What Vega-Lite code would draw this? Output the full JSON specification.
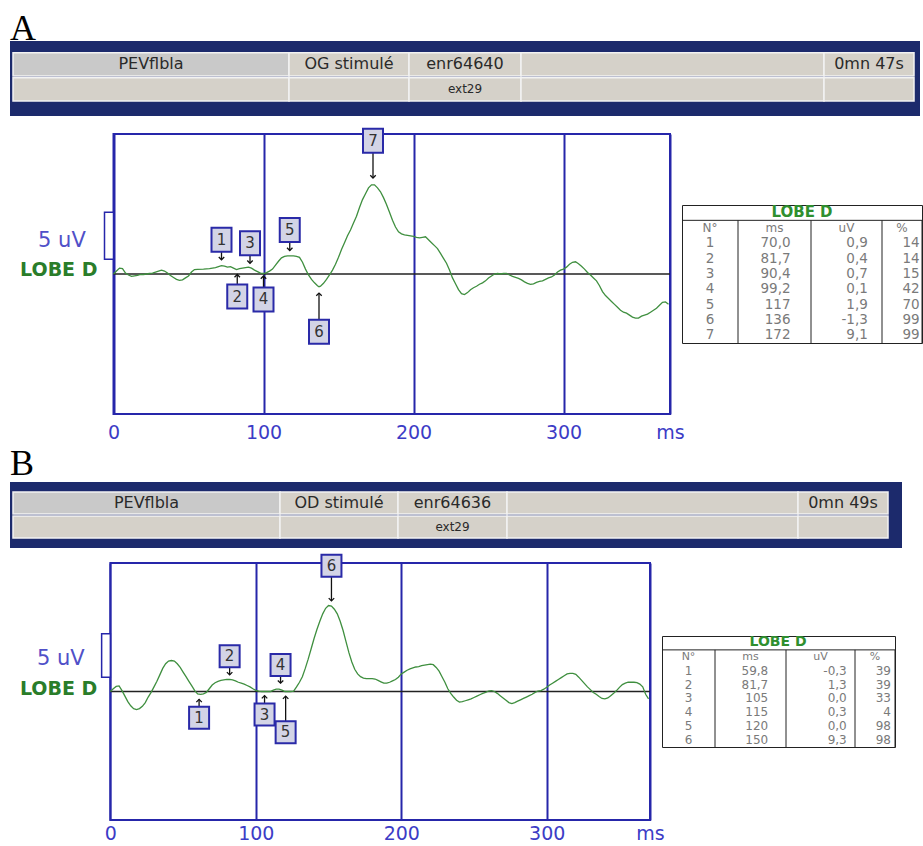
{
"$schema": "https://vega.github.io/schema/vega-lite/v6.json",
"padding": {"left": 10, "top": 11, "right": 0, "bottom": 0},
"background": "white",
"config": {"view": {"stroke": null}, "font": "DejaVu Sans"},
"datasets": {
"hdrColsA": [{"idx":1,"w":276},{"idx":2,"w":120},{"idx":3,"w":112},{"idx":4,"w":303},{"idx":5,"w":90}],
"hdrColsB": [{"idx":1,"w":267},{"idx":2,"w":118},{"idx":3,"w":109},{"idx":4,"w":291},{"idx":5,"w":90}],
"hdrA": [{"row":"1","idx":1,"label":"PEVflbla"},{"row":"1","idx":2,"label":"OG stimulé"},{"row":"1","idx":3,"label":"enr64640"},{"row":"1","idx":4,"label":""},{"row":"1","idx":5,"label":"0mn 47s"},{"row":"2","idx":1,"label":""},{"row":"2","idx":2,"label":""},{"row":"2","idx":3,"label":"ext29"},{"row":"2","idx":4,"label":""},{"row":"2","idx":5,"label":""}],
"hdrB": [{"row":"1","idx":1,"label":"PEVflbla"},{"row":"1","idx":2,"label":"OD stimulé"},{"row":"1","idx":3,"label":"enr64636"},{"row":"1","idx":4,"label":""},{"row":"1","idx":5,"label":"0mn 49s"},{"row":"2","idx":1,"label":""},{"row":"2","idx":2,"label":""},{"row":"2","idx":3,"label":"ext29"},{"row":"2","idx":4,"label":""},{"row":"2","idx":5,"label":""}],
"colsA": [{"key":"N","idx":1,"w":56,"head":"N°"},{"key":"ms","idx":2,"w":73,"head":"ms"},{"key":"uV","idx":3,"w":71,"head":"uV"},{"key":"pct","idx":4,"w":40,"head":"%"}],
"colsB": [{"key":"N","idx":1,"w":53,"head":"N°"},{"key":"ms","idx":2,"w":71,"head":"ms"},{"key":"uV","idx":3,"w":69,"head":"uV"},{"key":"pct","idx":4,"w":40,"head":"%"}],
"tabA": [{"N":1,"ms":"70,0","uV":"0,9","pct":"14"},{"N":2,"ms":"81,7","uV":"0,4","pct":"14"},{"N":3,"ms":"90,4","uV":"0,7","pct":"15"},{"N":4,"ms":"99,2","uV":"0,1","pct":"42"},{"N":5,"ms":"117","uV":"1,9","pct":"70"},{"N":6,"ms":"136","uV":"-1,3","pct":"99"},{"N":7,"ms":"172","uV":"9,1","pct":"99"}],
"tabB": [{"N":1,"ms":"59,8","uV":"-0,3","pct":"39"},{"N":2,"ms":"81,7","uV":"1,3","pct":"39"},{"N":3,"ms":"105","uV":"0,0","pct":"33"},{"N":4,"ms":"115","uV":"0,3","pct":"4"},{"N":5,"ms":"120","uV":"0,0","pct":"98"},{"N":6,"ms":"150","uV":"9,3","pct":"98"}],
"markA": [{"n":"1","t":72,"bv":3.5,"a0":2.27,"a1":1.45,"dir":"down"},{"n":"3","t":91,"bv":3.15,"a0":1.92,"a1":1.1,"dir":"down"},{"n":"5","t":117.5,"bv":4.5,"a0":3.27,"a1":2.4,"dir":"down"},{"n":"7","t":173,"bv":13.6,"a0":12.37,"a1":9.8,"dir":"down"},{"n":"2","t":82.5,"bv":-2.3,"a0":-1.07,"a1":-0.05,"dir":"up"},{"n":"4","t":100,"bv":-2.6,"a0":-1.37,"a1":-0.2,"dir":"up"},{"n":"6","t":137,"bv":-5.9,"a0":-4.67,"a1":-1.95,"dir":"up"}],
"markB": [{"n":"1","t":61,"bv":-2.85,"a0":-1.66,"a1":-0.85,"dir":"up"},{"n":"2","t":82,"bv":3.8,"a0":2.61,"a1":1.8,"dir":"down"},{"n":"3","t":106,"bv":-2.5,"a0":-1.31,"a1":-0.45,"dir":"up"},{"n":"4","t":117,"bv":2.87,"a0":1.68,"a1":0.9,"dir":"down"},{"n":"5","t":120.5,"bv":-4.4,"a0":-3.21,"a1":-0.5,"dir":"up"},{"n":"6","t":152,"bv":13.6,"a0":12.41,"a1":9.8,"dir":"down"}],
"traceA": [{"t":0,"v":0},{"t":2,"v":0.3},{"t":4,"v":0.6},{"t":6,"v":0.55},{"t":8,"v":0.1},{"t":10,"v":-0.1},{"t":12,"v":-0.25},{"t":14,"v":-0.2},{"t":16,"v":-0.15},{"t":18,"v":-0.05},{"t":20,"v":-0.05},{"t":22,"v":0},{"t":24,"v":0.05},{"t":26,"v":0.1},{"t":28,"v":0.2},{"t":30,"v":0.3},{"t":32,"v":0.4},{"t":34,"v":0.3},{"t":36,"v":0.1},{"t":38,"v":-0.15},{"t":40,"v":-0.35},{"t":42,"v":-0.55},{"t":44,"v":-0.65},{"t":46,"v":-0.6},{"t":48,"v":-0.4},{"t":50,"v":-0.2},{"t":52,"v":0.2},{"t":54,"v":0.45},{"t":56,"v":0.48},{"t":60,"v":0.5},{"t":64,"v":0.55},{"t":68,"v":0.65},{"t":70,"v":0.75},{"t":72,"v":0.85},{"t":74,"v":0.8},{"t":76,"v":0.7},{"t":78,"v":0.75},{"t":80,"v":0.6},{"t":82,"v":0.45},{"t":84,"v":0.55},{"t":86,"v":0.6},{"t":88,"v":0.65},{"t":90,"v":0.7},{"t":92,"v":0.6},{"t":94,"v":0.4},{"t":96,"v":0.25},{"t":98,"v":0.1},{"t":100,"v":0.05},{"t":102,"v":0.15},{"t":104,"v":0.3},{"t":106,"v":0.5},{"t":108,"v":0.9},{"t":110,"v":1.3},{"t":112,"v":1.65},{"t":114,"v":1.8},{"t":116,"v":1.85},{"t":118,"v":1.85},{"t":120,"v":1.85},{"t":122,"v":1.8},{"t":124,"v":1.7},{"t":126,"v":1.2},{"t":128,"v":0.5},{"t":130,"v":-0.1},{"t":132,"v":-0.55},{"t":134,"v":-0.9},{"t":136,"v":-1.2},{"t":137,"v":-1.3},{"t":138,"v":-1.25},{"t":140,"v":-0.95},{"t":142,"v":-0.55},{"t":144,"v":-0.1},{"t":146,"v":0.4},{"t":148,"v":1},{"t":150,"v":1.7},{"t":152,"v":2.5},{"t":154,"v":3.2},{"t":156,"v":3.9},{"t":158,"v":4.5},{"t":160,"v":5.2},{"t":162,"v":5.9},{"t":164,"v":6.8},{"t":166,"v":7.6},{"t":168,"v":8.2},{"t":170,"v":8.8},{"t":172,"v":9.1},{"t":174,"v":9.1},{"t":176,"v":8.8},{"t":178,"v":8.4},{"t":180,"v":7.8},{"t":182,"v":7.1},{"t":184,"v":6.3},{"t":186,"v":5.5},{"t":188,"v":4.8},{"t":190,"v":4.3},{"t":192,"v":4.1},{"t":194,"v":4},{"t":196,"v":3.95},{"t":198,"v":3.9},{"t":200,"v":3.85},{"t":202,"v":3.75},{"t":204,"v":3.7},{"t":206,"v":3.75},{"t":208,"v":3.8},{"t":210,"v":3.5},{"t":212,"v":3.2},{"t":214,"v":2.9},{"t":216,"v":2.6},{"t":218,"v":2.1},{"t":220,"v":1.6},{"t":222,"v":1.1},{"t":224,"v":0.4},{"t":226,"v":-0.4},{"t":228,"v":-1},{"t":230,"v":-1.6},{"t":232,"v":-2},{"t":234,"v":-2.1},{"t":236,"v":-1.9},{"t":238,"v":-1.6},{"t":240,"v":-1.4},{"t":242,"v":-1.25},{"t":244,"v":-1.05},{"t":246,"v":-0.9},{"t":248,"v":-0.7},{"t":250,"v":-0.4},{"t":252,"v":-0.2},{"t":254,"v":0},{"t":256,"v":0.05},{"t":258,"v":0},{"t":260,"v":0.05},{"t":262,"v":0.05},{"t":264,"v":-0.1},{"t":266,"v":-0.25},{"t":268,"v":-0.35},{"t":270,"v":-0.45},{"t":272,"v":-0.6},{"t":274,"v":-0.8},{"t":276,"v":-0.95},{"t":278,"v":-1.05},{"t":280,"v":-1},{"t":282,"v":-0.85},{"t":284,"v":-0.75},{"t":286,"v":-0.7},{"t":288,"v":-0.55},{"t":290,"v":-0.4},{"t":292,"v":-0.3},{"t":294,"v":-0.1},{"t":296,"v":0.2},{"t":298,"v":0.4},{"t":300,"v":0.5},{"t":302,"v":0.7},{"t":304,"v":1},{"t":306,"v":1.2},{"t":308,"v":1.25},{"t":310,"v":1.05},{"t":312,"v":0.8},{"t":314,"v":0.5},{"t":316,"v":0.15},{"t":318,"v":-0.1},{"t":320,"v":-0.4},{"t":322,"v":-0.7},{"t":324,"v":-1.2},{"t":326,"v":-1.8},{"t":328,"v":-2.2},{"t":330,"v":-2.5},{"t":332,"v":-2.8},{"t":334,"v":-3.1},{"t":336,"v":-3.4},{"t":338,"v":-3.7},{"t":340,"v":-3.9},{"t":342,"v":-4},{"t":344,"v":-4.2},{"t":346,"v":-4.4},{"t":348,"v":-4.5},{"t":350,"v":-4.5},{"t":352,"v":-4.3},{"t":354,"v":-4.2},{"t":356,"v":-4.1},{"t":358,"v":-3.9},{"t":360,"v":-3.7},{"t":362,"v":-3.5},{"t":364,"v":-3.2},{"t":366,"v":-2.9},{"t":368,"v":-2.85},{"t":370,"v":-3.1}],
"traceB": [{"t":0,"v":0},{"t":2,"v":0.3},{"t":4,"v":0.55},{"t":6,"v":0.6},{"t":8,"v":0.1},{"t":10,"v":-0.5},{"t":12,"v":-1.1},{"t":14,"v":-1.55},{"t":16,"v":-1.85},{"t":18,"v":-1.95},{"t":20,"v":-1.85},{"t":22,"v":-1.6},{"t":24,"v":-1.2},{"t":26,"v":-0.6},{"t":28,"v":-0.1},{"t":30,"v":0.5},{"t":32,"v":1.1},{"t":34,"v":1.8},{"t":36,"v":2.5},{"t":38,"v":3},{"t":40,"v":3.3},{"t":42,"v":3.35},{"t":44,"v":3.3},{"t":46,"v":3},{"t":48,"v":2.6},{"t":50,"v":2.1},{"t":52,"v":1.6},{"t":54,"v":1.1},{"t":56,"v":0.6},{"t":58,"v":0.1},{"t":60,"v":-0.25},{"t":62,"v":-0.3},{"t":64,"v":-0.25},{"t":66,"v":-0.1},{"t":68,"v":0.3},{"t":70,"v":0.7},{"t":72,"v":0.95},{"t":74,"v":1.1},{"t":76,"v":1.2},{"t":78,"v":1.25},{"t":80,"v":1.3},{"t":82,"v":1.3},{"t":84,"v":1.25},{"t":86,"v":1.15},{"t":88,"v":1},{"t":90,"v":0.9},{"t":92,"v":0.8},{"t":94,"v":0.65},{"t":96,"v":0.5},{"t":98,"v":0.3},{"t":100,"v":0.12},{"t":102,"v":0.05},{"t":104,"v":0},{"t":106,"v":0},{"t":108,"v":0},{"t":110,"v":0},{"t":112,"v":0.15},{"t":114,"v":0.25},{"t":116,"v":0.25},{"t":118,"v":0.15},{"t":120,"v":0},{"t":122,"v":0},{"t":124,"v":0},{"t":126,"v":0.05},{"t":128,"v":0.5},{"t":130,"v":1},{"t":132,"v":1.6},{"t":134,"v":2.5},{"t":136,"v":3.5},{"t":138,"v":4.6},{"t":140,"v":5.7},{"t":142,"v":6.7},{"t":144,"v":7.6},{"t":146,"v":8.4},{"t":148,"v":9},{"t":150,"v":9.3},{"t":152,"v":9.25},{"t":154,"v":8.9},{"t":156,"v":8.4},{"t":158,"v":7.6},{"t":160,"v":6.6},{"t":162,"v":5.4},{"t":164,"v":4.2},{"t":166,"v":3.2},{"t":168,"v":2.4},{"t":170,"v":1.9},{"t":172,"v":1.6},{"t":174,"v":1.45},{"t":176,"v":1.4},{"t":178,"v":1.4},{"t":180,"v":1.4},{"t":182,"v":1.35},{"t":184,"v":1.2},{"t":186,"v":1.05},{"t":188,"v":0.9},{"t":190,"v":0.9},{"t":192,"v":1},{"t":194,"v":1.15},{"t":196,"v":1.3},{"t":198,"v":1.55},{"t":200,"v":1.9},{"t":202,"v":2.1},{"t":204,"v":2.3},{"t":206,"v":2.45},{"t":208,"v":2.55},{"t":210,"v":2.65},{"t":212,"v":2.7},{"t":214,"v":2.8},{"t":216,"v":2.85},{"t":218,"v":2.9},{"t":220,"v":2.95},{"t":222,"v":2.9},{"t":224,"v":2.6},{"t":226,"v":2.2},{"t":228,"v":1.6},{"t":230,"v":1},{"t":232,"v":0.3},{"t":234,"v":-0.2},{"t":236,"v":-0.6},{"t":238,"v":-0.95},{"t":240,"v":-1.15},{"t":242,"v":-1.1},{"t":244,"v":-1},{"t":246,"v":-0.9},{"t":248,"v":-0.8},{"t":250,"v":-0.65},{"t":252,"v":-0.5},{"t":254,"v":-0.35},{"t":256,"v":-0.2},{"t":258,"v":-0.1},{"t":260,"v":0.05},{"t":262,"v":0.1},{"t":264,"v":0},{"t":266,"v":-0.2},{"t":268,"v":-0.45},{"t":270,"v":-0.7},{"t":272,"v":-0.95},{"t":274,"v":-1.2},{"t":276,"v":-1.3},{"t":278,"v":-1.2},{"t":280,"v":-1.05},{"t":282,"v":-0.9},{"t":284,"v":-0.75},{"t":286,"v":-0.6},{"t":288,"v":-0.45},{"t":290,"v":-0.3},{"t":292,"v":-0.1},{"t":294,"v":0.05},{"t":296,"v":0.1},{"t":298,"v":0.25},{"t":300,"v":0.45},{"t":302,"v":0.7},{"t":304,"v":0.9},{"t":306,"v":1.1},{"t":308,"v":1.3},{"t":310,"v":1.5},{"t":312,"v":1.7},{"t":314,"v":1.9},{"t":316,"v":1.95},{"t":318,"v":1.95},{"t":320,"v":1.85},{"t":322,"v":1.55},{"t":324,"v":1.2},{"t":326,"v":0.85},{"t":328,"v":0.5},{"t":330,"v":0.2},{"t":332,"v":-0.1},{"t":334,"v":-0.3},{"t":336,"v":-0.55},{"t":338,"v":-0.75},{"t":340,"v":-0.8},{"t":342,"v":-0.7},{"t":344,"v":-0.45},{"t":346,"v":-0.2},{"t":348,"v":0.1},{"t":350,"v":0.45},{"t":352,"v":0.75},{"t":354,"v":0.9},{"t":356,"v":1},{"t":358,"v":1},{"t":360,"v":1},{"t":362,"v":0.95},{"t":364,"v":0.8},{"t":366,"v":0.5},{"t":368,"v":-0.3},{"t":370,"v":-0.8}]
},
"spacing": 4,
"vconcat": [
{"spacing": 8, "vconcat": [
 {"title": {"text": "A", "anchor": "start", "font": "Liberation Serif", "fontSize": 36, "fontWeight": "normal", "color": "#000", "offset": -7},
  "width": 910, "height": 75,
  "view": {"fill": "#1c2a6c", "stroke": null},
  "data": {"name": "hdrA"},
  "transform": [{"lookup": "idx", "from": {"data": {"name": "hdrColsA"}, "key": "idx", "fields": ["w"]}}],
  "encoding": {
   "y": {"field": "row", "type": "nominal", "axis": null, "scale": {"domain": ["1","2"], "paddingInner": 0.07, "paddingOuter": 0.53, "align": 0.44}},
   "order": {"field": "idx", "type": "quantitative"},
   "detail": {"field": "idx", "type": "nominal"}
  },
  "layer": [
   {"mark": {"type": "bar", "stroke": "#f2f2f2", "strokeWidth": 1.5},
    "encoding": {"x": {"field": "w", "type": "quantitative", "stack": "zero", "axis": null, "scale": {"domain": [-3, 907], "nice": false, "zero": false}},
     "color": {"condition": {"test": "datum.row == '1' && datum.idx == 1", "value": "#c9c9c9"}, "value": "#d5d1c9"}}},
   {"mark": {"type": "text", "font": "DejaVu Sans", "color": "#2a2a2a"},
    "encoding": {"x": {"field": "w", "type": "quantitative", "stack": "zero", "bandPosition": 0.5},
     "text": {"field": "label"},
     "size": {"condition": {"test": "datum.row == '2'", "value": 12}, "value": 16}}}
  ]
 },
 {"hconcat": [
  {"width": 660, "height": 280,
   "layer": [
    {"data": {"values": [{}]}, "mark": {"type": "rect", "fillOpacity": 0, "stroke": "#2626aa", "strokeWidth": 2},
     "encoding": {"x": {"datum": 0, "type": "quantitative", "scale": {"domain": [-69, 371], "nice": false, "zero": false},
       "axis": {"values": [0, 100, 200, 300, 371], "labelExpr": "datum.value > 350 ? 'ms' : datum.label", "title": null, "ticks": false, "domain": false, "grid": true, "gridColor": "#2626aa", "gridWidth": 2, "labelFont": "DejaVu Sans", "labelFontSize": 19, "labelColor": "#3c3cc6", "labelPadding": 9, "labelFlush": false, "labelOverlap": false, "labelBound": false}},
      "x2": {"datum": 371},
      "y": {"datum": -14.3, "type": "quantitative", "scale": {"domain": [-14.3, 14.3], "nice": false, "zero": false}, "axis": null},
      "y2": {"datum": 14.3}}},
    {"data": {"values": [{}]}, "mark": {"type": "rule", "color": "#222", "strokeWidth": 1.5},
     "encoding": {"x": {"datum": 0}, "x2": {"datum": 371}, "y": {"datum": 0}}},
    {"data": {"values": [{}]}, "mark": {"type": "rect", "fill": "white", "stroke": "#2626aa", "strokeWidth": 1.5},
     "encoding": {"x": {"datum": -6}, "x2": {"datum": 0}, "y": {"datum": 1.5}, "y2": {"datum": 6.3}}},
    {"data": {"values": [{}]}, "mark": {"type": "text", "text": "LOBE D", "font": "DejaVu Sans", "fontWeight": "bold", "fontSize": 19, "color": "#2a7d2a", "align": "left"},
     "encoding": {"x": {"datum": -62.3}, "y": {"datum": 0.45}}},
    {"data": {"values": [{}]}, "mark": {"type": "text", "text": "5 uV", "font": "DejaVu Sans", "fontSize": 21, "color": "#5050c8", "align": "left"},
     "encoding": {"x": {"datum": -50.3}, "y": {"datum": 3.4}}},
    {"data": {"name": "traceA"}, "mark": {"type": "line", "color": "#3f8f3f", "strokeWidth": 1.3},
     "encoding": {"x": {"field": "t", "type": "quantitative"}, "y": {"field": "v", "type": "quantitative"}}},
    {"data": {"name": "markA"}, "mark": {"type": "rule", "color": "#111", "strokeWidth": 1.3},
     "encoding": {"x": {"field": "t", "type": "quantitative"}, "y": {"field": "a0", "type": "quantitative"}, "y2": {"field": "a1"}}},
    {"data": {"name": "markA"}, "mark": {"type": "point", "filled": false, "color": "#111", "strokeWidth": 1.3, "size": 30, "opacity": 1},
     "encoding": {"x": {"field": "t", "type": "quantitative"}, "y": {"field": "a1", "type": "quantitative"},
      "shape": {"field": "dir", "type": "nominal", "scale": {"domain": ["down", "up"], "range": ["M-1,-1L0,0L1,-1", "M-1,1L0,0L1,1"]}, "legend": null}}},
    {"data": {"name": "markA"}, "mark": {"type": "point", "shape": "M-1,-1.2H1V1.2H-1Z", "size": 400, "filled": true, "fill": "#d3d4e6", "stroke": "#2a2aa8", "strokeWidth": 2, "opacity": 1},
     "encoding": {"x": {"field": "t", "type": "quantitative"}, "y": {"field": "bv", "type": "quantitative"}}},
    {"data": {"name": "markA"}, "mark": {"type": "text", "font": "DejaVu Sans", "fontSize": 15, "color": "#333"},
     "encoding": {"x": {"field": "t", "type": "quantitative"}, "y": {"field": "bv", "type": "quantitative"}, "text": {"field": "n"}}}
   ]},
  {"width": 240, "height": 138,
   "view": {"stroke": "#222", "strokeWidth": 1},
   "layer": [
    {"data": {"values": [{}]}, "mark": {"type": "rule", "color": "#222"},
     "encoding": {"y": {"datum": -0.5, "type": "quantitative", "scale": {"domain": [-1.5, 7.5], "reverse": true, "nice": false, "zero": false}, "axis": null}}},
    {"data": {"name": "colsA"}, "mark": {"type": "rule", "color": "#222"},
     "encoding": {"x": {"field": "w", "type": "quantitative", "stack": "zero", "scale": {"domain": [0, 240], "nice": false}, "axis": null},
      "order": {"field": "idx", "type": "quantitative"}, "detail": {"field": "key"}, "y": {"datum": -0.5}, "y2": {"datum": 7.5}}},
    {"data": {"name": "colsA"}, "mark": {"type": "text", "fontSize": 12, "color": "#7a7a7a"},
     "encoding": {"x": {"field": "w", "type": "quantitative", "stack": "zero", "bandPosition": 0.5},
      "order": {"field": "idx", "type": "quantitative"}, "detail": {"field": "key"}, "y": {"datum": -0.02}, "text": {"field": "head"}}},
    {"data": {"values": [{}]}, "mark": {"type": "text", "text": "LOBE D", "fontSize": 15, "fontWeight": "bold", "color": "#2f8f2f"},
     "encoding": {"x": {"datum": 120}, "y": {"datum": -1.02}}},
    {"data": {"name": "tabA"}, "transform": [{"fold": ["N", "ms", "uV", "pct"], "as": ["key", "value"]}, {"lookup": "key", "from": {"data": {"name": "colsA"}, "key": "key", "fields": ["w", "idx"]}}],
     "mark": {"type": "text", "fontSize": 13.5, "color": "#7a7a7a", "align": "center"},
     "encoding": {"x": {"field": "w", "type": "quantitative", "stack": "zero", "bandPosition": 0.5}, "order": {"field": "idx", "type": "quantitative"}, "detail": {"field": "key"},
      "y": {"field": "N", "type": "quantitative"}, "text": {"condition": {"test": "datum.key == 'N'", "field": "value"}, "value": ""}}},
    {"data": {"name": "tabA"}, "transform": [{"fold": ["N", "ms", "uV", "pct"], "as": ["key", "value"]}, {"lookup": "key", "from": {"data": {"name": "colsA"}, "key": "key", "fields": ["w", "idx"]}}],
     "mark": {"type": "text", "fontSize": 13.5, "color": "#7a7a7a", "align": "right"},
     "encoding": {"x": {"field": "w", "type": "quantitative", "stack": "zero", "bandPosition": 0.72}, "order": {"field": "idx", "type": "quantitative"}, "detail": {"field": "key"},
      "y": {"field": "N", "type": "quantitative"}, "text": {"condition": {"test": "datum.key == 'ms'", "field": "value"}, "value": ""}}},
    {"data": {"name": "tabA"}, "transform": [{"fold": ["N", "ms", "uV", "pct"], "as": ["key", "value"]}, {"lookup": "key", "from": {"data": {"name": "colsA"}, "key": "key", "fields": ["w", "idx"]}}],
     "mark": {"type": "text", "fontSize": 13.5, "color": "#7a7a7a", "align": "right"},
     "encoding": {"x": {"field": "w", "type": "quantitative", "stack": "zero", "bandPosition": 0.8}, "order": {"field": "idx", "type": "quantitative"}, "detail": {"field": "key"},
      "y": {"field": "N", "type": "quantitative"}, "text": {"condition": {"test": "datum.key == 'uV'", "field": "value"}, "value": ""}}},
    {"data": {"name": "tabA"}, "transform": [{"fold": ["N", "ms", "uV", "pct"], "as": ["key", "value"]}, {"lookup": "key", "from": {"data": {"name": "colsA"}, "key": "key", "fields": ["w", "idx"]}}],
     "mark": {"type": "text", "fontSize": 13.5, "color": "#7a7a7a", "align": "right"},
     "encoding": {"x": {"field": "w", "type": "quantitative", "stack": "zero", "bandPosition": 0.94}, "order": {"field": "idx", "type": "quantitative"}, "detail": {"field": "key"},
      "y": {"field": "N", "type": "quantitative"}, "text": {"condition": {"test": "datum.key == 'pct'", "field": "value"}, "value": ""}}}
   ]}
 ], "spacing": 12, "bounds": "flush", "center": true}
]},
{"spacing": 2, "vconcat": [
 {"title": {"text": "B", "anchor": "start", "font": "Liberation Serif", "fontSize": 36, "fontWeight": "normal", "color": "#000", "offset": -1},
  "width": 892, "height": 66,
  "view": {"fill": "#1c2a6c", "stroke": null},
  "data": {"name": "hdrB"},
  "transform": [{"lookup": "idx", "from": {"data": {"name": "hdrColsB"}, "key": "idx", "fields": ["w"]}}],
  "encoding": {
   "y": {"field": "row", "type": "nominal", "axis": null, "scale": {"domain": ["1","2"], "paddingInner": 0.08, "paddingOuter": 0.42, "align": 0.5}},
   "order": {"field": "idx", "type": "quantitative"},
   "detail": {"field": "idx", "type": "nominal"}
  },
  "layer": [
   {"mark": {"type": "bar", "stroke": "#f2f2f2", "strokeWidth": 1.5},
    "encoding": {"x": {"field": "w", "type": "quantitative", "stack": "zero", "axis": null, "scale": {"domain": [-3, 889], "nice": false, "zero": false}},
     "color": {"condition": {"test": "datum.row == '1' && datum.idx == 1", "value": "#c9c9c9"}, "value": "#d5d1c9"}}},
   {"mark": {"type": "text", "font": "DejaVu Sans", "color": "#2a2a2a"},
    "encoding": {"x": {"field": "w", "type": "quantitative", "stack": "zero", "bandPosition": 0.5},
     "text": {"field": "label"},
     "size": {"condition": {"test": "datum.row == '2'", "value": 12}, "value": 16}}}
  ]
 },
 {"hconcat": [
  {"width": 640, "height": 257,
   "layer": [
    {"data": {"values": [{}]}, "mark": {"type": "rect", "fillOpacity": 0, "stroke": "#2626aa", "strokeWidth": 2},
     "encoding": {"x": {"datum": 0, "type": "quantitative", "scale": {"domain": [-69, 371], "nice": false, "zero": false},
       "axis": {"values": [0, 100, 200, 300, 371], "labelExpr": "datum.value > 350 ? 'ms' : datum.label", "title": null, "ticks": false, "domain": false, "grid": true, "gridColor": "#2626aa", "gridWidth": 2, "labelFont": "DejaVu Sans", "labelFontSize": 19, "labelColor": "#3c3cc6", "labelPadding": 4, "labelFlush": false, "labelOverlap": false, "labelBound": false}},
      "x2": {"datum": 371},
      "y": {"datum": -13.9, "type": "quantitative", "scale": {"domain": [-13.9, 13.9], "nice": false, "zero": false}, "axis": null},
      "y2": {"datum": 13.9}}},
    {"data": {"values": [{}]}, "mark": {"type": "rule", "color": "#222", "strokeWidth": 1.5},
     "encoding": {"x": {"datum": 0}, "x2": {"datum": 371}, "y": {"datum": 0}}},
    {"data": {"values": [{}]}, "mark": {"type": "rect", "fill": "white", "stroke": "#2626aa", "strokeWidth": 1.5},
     "encoding": {"x": {"datum": -6}, "x2": {"datum": 0}, "y": {"datum": 1.55}, "y2": {"datum": 6.25}}},
    {"data": {"values": [{}]}, "mark": {"type": "text", "text": "LOBE D", "font": "DejaVu Sans", "fontWeight": "bold", "fontSize": 19, "color": "#2a7d2a", "align": "left"},
     "encoding": {"x": {"datum": -62.2}, "y": {"datum": 0.3}}},
    {"data": {"values": [{}]}, "mark": {"type": "text", "text": "5 uV", "font": "DejaVu Sans", "fontSize": 21, "color": "#5050c8", "align": "left"},
     "encoding": {"x": {"datum": -50.5}, "y": {"datum": 3.5}}},
    {"data": {"name": "traceB"}, "mark": {"type": "line", "color": "#3f8f3f", "strokeWidth": 1.3},
     "encoding": {"x": {"field": "t", "type": "quantitative"}, "y": {"field": "v", "type": "quantitative"}}},
    {"data": {"name": "markB"}, "mark": {"type": "rule", "color": "#111", "strokeWidth": 1.3},
     "encoding": {"x": {"field": "t", "type": "quantitative"}, "y": {"field": "a0", "type": "quantitative"}, "y2": {"field": "a1"}}},
    {"data": {"name": "markB"}, "mark": {"type": "point", "filled": false, "color": "#111", "strokeWidth": 1.3, "size": 30, "opacity": 1},
     "encoding": {"x": {"field": "t", "type": "quantitative"}, "y": {"field": "a1", "type": "quantitative"},
      "shape": {"field": "dir", "type": "nominal", "scale": {"domain": ["down", "up"], "range": ["M-1,-1L0,0L1,-1", "M-1,1L0,0L1,1"]}, "legend": null}}},
    {"data": {"name": "markB"}, "mark": {"type": "point", "shape": "M-1,-1.1H1V1.1H-1Z", "size": 400, "filled": true, "fill": "#d3d4e6", "stroke": "#2a2aa8", "strokeWidth": 2, "opacity": 1},
     "encoding": {"x": {"field": "t", "type": "quantitative"}, "y": {"field": "bv", "type": "quantitative"}}},
    {"data": {"name": "markB"}, "mark": {"type": "text", "font": "DejaVu Sans", "fontSize": 15, "color": "#333"},
     "encoding": {"x": {"field": "t", "type": "quantitative"}, "y": {"field": "bv", "type": "quantitative"}, "text": {"field": "n"}}}
   ]},
  {"width": 233, "height": 111,
   "view": {"stroke": "#222", "strokeWidth": 1},
   "layer": [
    {"data": {"values": [{}]}, "mark": {"type": "rule", "color": "#222"},
     "encoding": {"y": {"datum": -0.5, "type": "quantitative", "scale": {"domain": [-1.5, 6.5], "reverse": true, "nice": false, "zero": false}, "axis": null}}},
    {"data": {"name": "colsB"}, "mark": {"type": "rule", "color": "#222"},
     "encoding": {"x": {"field": "w", "type": "quantitative", "stack": "zero", "scale": {"domain": [0, 233], "nice": false}, "axis": null},
      "order": {"field": "idx", "type": "quantitative"}, "detail": {"field": "key"}, "y": {"datum": -0.5}, "y2": {"datum": 6.5}}},
    {"data": {"name": "colsB"}, "mark": {"type": "text", "fontSize": 11, "color": "#7a7a7a"},
     "encoding": {"x": {"field": "w", "type": "quantitative", "stack": "zero", "bandPosition": 0.5},
      "order": {"field": "idx", "type": "quantitative"}, "detail": {"field": "key"}, "y": {"datum": -0.02}, "text": {"field": "head"}}},
    {"data": {"values": [{}]}, "mark": {"type": "text", "text": "LOBE D", "fontSize": 14, "fontWeight": "bold", "color": "#2f8f2f"},
     "encoding": {"x": {"datum": 116}, "y": {"datum": -1.05}}},
    {"data": {"name": "tabB"}, "transform": [{"fold": ["N", "ms", "uV", "pct"], "as": ["key", "value"]}, {"lookup": "key", "from": {"data": {"name": "colsB"}, "key": "key", "fields": ["w", "idx"]}}],
     "mark": {"type": "text", "fontSize": 12, "color": "#7a7a7a", "align": "center"},
     "encoding": {"x": {"field": "w", "type": "quantitative", "stack": "zero", "bandPosition": 0.5}, "order": {"field": "idx", "type": "quantitative"}, "detail": {"field": "key"},
      "y": {"field": "N", "type": "quantitative"}, "text": {"condition": {"test": "datum.key == 'N'", "field": "value"}, "value": ""}}},
    {"data": {"name": "tabB"}, "transform": [{"fold": ["N", "ms", "uV", "pct"], "as": ["key", "value"]}, {"lookup": "key", "from": {"data": {"name": "colsB"}, "key": "key", "fields": ["w", "idx"]}}],
     "mark": {"type": "text", "fontSize": 12, "color": "#7a7a7a", "align": "right"},
     "encoding": {"x": {"field": "w", "type": "quantitative", "stack": "zero", "bandPosition": 0.75}, "order": {"field": "idx", "type": "quantitative"}, "detail": {"field": "key"},
      "y": {"field": "N", "type": "quantitative"}, "text": {"condition": {"test": "datum.key == 'ms'", "field": "value"}, "value": ""}}},
    {"data": {"name": "tabB"}, "transform": [{"fold": ["N", "ms", "uV", "pct"], "as": ["key", "value"]}, {"lookup": "key", "from": {"data": {"name": "colsB"}, "key": "key", "fields": ["w", "idx"]}}],
     "mark": {"type": "text", "fontSize": 12, "color": "#7a7a7a", "align": "right"},
     "encoding": {"x": {"field": "w", "type": "quantitative", "stack": "zero", "bandPosition": 0.88}, "order": {"field": "idx", "type": "quantitative"}, "detail": {"field": "key"},
      "y": {"field": "N", "type": "quantitative"}, "text": {"condition": {"test": "datum.key == 'uV'", "field": "value"}, "value": ""}}},
    {"data": {"name": "tabB"}, "transform": [{"fold": ["N", "ms", "uV", "pct"], "as": ["key", "value"]}, {"lookup": "key", "from": {"data": {"name": "colsB"}, "key": "key", "fields": ["w", "idx"]}}],
     "mark": {"type": "text", "fontSize": 12, "color": "#7a7a7a", "align": "right"},
     "encoding": {"x": {"field": "w", "type": "quantitative", "stack": "zero", "bandPosition": 0.9}, "order": {"field": "idx", "type": "quantitative"}, "detail": {"field": "key"},
      "y": {"field": "N", "type": "quantitative"}, "text": {"condition": {"test": "datum.key == 'pct'", "field": "value"}, "value": ""}}}
   ]}
 ], "spacing": 12, "bounds": "flush", "center": true}
]}
]
}
